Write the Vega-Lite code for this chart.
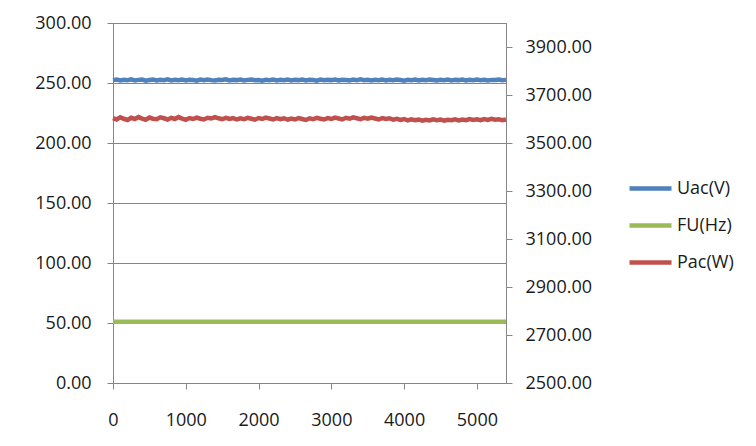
{
  "$schema": "https://vega.github.io/schema/vega-lite/v6.json",
  "width": 393,
  "height": 360,
  "autosize": {"type": "none"},
  "padding": {"left": 113, "top": 23, "right": 250, "bottom": 63},
  "background": "white",
  "config": {
    "font": "Open Sans",
    "view": {"stroke": "#868686", "strokeWidth": 1},
    "axis": {
      "domainColor": "#868686",
      "tickColor": "#868686",
      "gridColor": "#868686",
      "gridWidth": 1,
      "tickSize": 6,
      "labelFont": "Open Sans",
      "labelFontSize": 18,
      "labelColor": "#1a1a1a",
      "labelFlush": false,
      "title": null
    }
  },
  "datasets": {
    "left": [
      {"x":0,"s":"Uac(V)","v":252.4},{"x":50,"s":"Uac(V)","v":252.9},{"x":100,"s":"Uac(V)","v":252.1},{"x":150,"s":"Uac(V)","v":252.7},{"x":200,"s":"Uac(V)","v":252.3},{"x":250,"s":"Uac(V)","v":253.0},{"x":300,"s":"Uac(V)","v":252.2},{"x":350,"s":"Uac(V)","v":252.6},{"x":400,"s":"Uac(V)","v":252.9},{"x":450,"s":"Uac(V)","v":252.0},
      {"x":500,"s":"Uac(V)","v":252.5},{"x":550,"s":"Uac(V)","v":252.8},{"x":600,"s":"Uac(V)","v":252.2},{"x":650,"s":"Uac(V)","v":252.7},{"x":700,"s":"Uac(V)","v":252.4},{"x":750,"s":"Uac(V)","v":253.0},{"x":800,"s":"Uac(V)","v":252.1},{"x":850,"s":"Uac(V)","v":252.6},{"x":900,"s":"Uac(V)","v":252.3},{"x":950,"s":"Uac(V)","v":252.9},
      {"x":1000,"s":"Uac(V)","v":252.2},{"x":1050,"s":"Uac(V)","v":252.7},{"x":1100,"s":"Uac(V)","v":252.5},{"x":1150,"s":"Uac(V)","v":252.0},{"x":1200,"s":"Uac(V)","v":252.8},{"x":1250,"s":"Uac(V)","v":252.3},{"x":1300,"s":"Uac(V)","v":252.9},{"x":1350,"s":"Uac(V)","v":252.4},{"x":1400,"s":"Uac(V)","v":252.1},{"x":1450,"s":"Uac(V)","v":252.7},
      {"x":1500,"s":"Uac(V)","v":252.5},{"x":1550,"s":"Uac(V)","v":253.0},{"x":1600,"s":"Uac(V)","v":252.2},{"x":1650,"s":"Uac(V)","v":252.6},{"x":1700,"s":"Uac(V)","v":252.4},{"x":1750,"s":"Uac(V)","v":252.8},{"x":1800,"s":"Uac(V)","v":252.1},{"x":1850,"s":"Uac(V)","v":252.6},{"x":1900,"s":"Uac(V)","v":252.9},{"x":1950,"s":"Uac(V)","v":252.3},
      {"x":2000,"s":"Uac(V)","v":252.5},{"x":2050,"s":"Uac(V)","v":252.0},{"x":2100,"s":"Uac(V)","v":252.7},{"x":2150,"s":"Uac(V)","v":252.4},{"x":2200,"s":"Uac(V)","v":252.9},{"x":2250,"s":"Uac(V)","v":252.2},{"x":2300,"s":"Uac(V)","v":252.6},{"x":2350,"s":"Uac(V)","v":252.3},{"x":2400,"s":"Uac(V)","v":252.8},{"x":2450,"s":"Uac(V)","v":252.1},
      {"x":2500,"s":"Uac(V)","v":252.6},{"x":2550,"s":"Uac(V)","v":252.4},{"x":2600,"s":"Uac(V)","v":252.9},{"x":2650,"s":"Uac(V)","v":252.2},{"x":2700,"s":"Uac(V)","v":252.7},{"x":2750,"s":"Uac(V)","v":252.5},{"x":2800,"s":"Uac(V)","v":252.0},{"x":2850,"s":"Uac(V)","v":252.8},{"x":2900,"s":"Uac(V)","v":252.3},{"x":2950,"s":"Uac(V)","v":252.6},
      {"x":3000,"s":"Uac(V)","v":252.4},{"x":3050,"s":"Uac(V)","v":252.9},{"x":3100,"s":"Uac(V)","v":252.1},{"x":3150,"s":"Uac(V)","v":252.7},{"x":3200,"s":"Uac(V)","v":252.5},{"x":3250,"s":"Uac(V)","v":252.2},{"x":3300,"s":"Uac(V)","v":252.8},{"x":3350,"s":"Uac(V)","v":252.4},{"x":3400,"s":"Uac(V)","v":253.0},{"x":3450,"s":"Uac(V)","v":252.3},
      {"x":3500,"s":"Uac(V)","v":252.6},{"x":3550,"s":"Uac(V)","v":252.1},{"x":3600,"s":"Uac(V)","v":252.7},{"x":3650,"s":"Uac(V)","v":252.4},{"x":3700,"s":"Uac(V)","v":252.9},{"x":3750,"s":"Uac(V)","v":252.2},{"x":3800,"s":"Uac(V)","v":252.6},{"x":3850,"s":"Uac(V)","v":252.3},{"x":3900,"s":"Uac(V)","v":252.8},{"x":3950,"s":"Uac(V)","v":252.5},
      {"x":4000,"s":"Uac(V)","v":252.0},{"x":4050,"s":"Uac(V)","v":252.7},{"x":4100,"s":"Uac(V)","v":252.4},{"x":4150,"s":"Uac(V)","v":252.9},{"x":4200,"s":"Uac(V)","v":252.2},{"x":4250,"s":"Uac(V)","v":252.6},{"x":4300,"s":"Uac(V)","v":252.3},{"x":4350,"s":"Uac(V)","v":252.8},{"x":4400,"s":"Uac(V)","v":252.5},{"x":4450,"s":"Uac(V)","v":252.1},
      {"x":4500,"s":"Uac(V)","v":252.7},{"x":4550,"s":"Uac(V)","v":252.4},{"x":4600,"s":"Uac(V)","v":252.9},{"x":4650,"s":"Uac(V)","v":252.2},{"x":4700,"s":"Uac(V)","v":252.6},{"x":4750,"s":"Uac(V)","v":252.4},{"x":4800,"s":"Uac(V)","v":252.8},{"x":4850,"s":"Uac(V)","v":252.1},{"x":4900,"s":"Uac(V)","v":252.6},{"x":4950,"s":"Uac(V)","v":252.3},
      {"x":5000,"s":"Uac(V)","v":252.9},{"x":5050,"s":"Uac(V)","v":252.4},{"x":5100,"s":"Uac(V)","v":252.7},{"x":5150,"s":"Uac(V)","v":252.2},{"x":5200,"s":"Uac(V)","v":252.6},{"x":5250,"s":"Uac(V)","v":252.5},{"x":5300,"s":"Uac(V)","v":252.8},{"x":5350,"s":"Uac(V)","v":252.3},{"x":5400,"s":"Uac(V)","v":252.6},
      {"x":0,"s":"FU(Hz)","v":51.0},{"x":600,"s":"FU(Hz)","v":51.0},{"x":1200,"s":"FU(Hz)","v":51.0},{"x":1800,"s":"FU(Hz)","v":51.0},{"x":2400,"s":"FU(Hz)","v":51.0},{"x":3000,"s":"FU(Hz)","v":51.0},{"x":3600,"s":"FU(Hz)","v":51.0},{"x":4200,"s":"FU(Hz)","v":51.0},{"x":4800,"s":"FU(Hz)","v":51.0},{"x":5400,"s":"FU(Hz)","v":51.0}
    ],
    "right": [
      {"x":0,"s":"Pac(W)","v":3604},{"x":50,"s":"Pac(W)","v":3598},{"x":100,"s":"Pac(W)","v":3607},{"x":150,"s":"Pac(W)","v":3601},{"x":200,"s":"Pac(W)","v":3596},{"x":250,"s":"Pac(W)","v":3605},{"x":300,"s":"Pac(W)","v":3600},{"x":350,"s":"Pac(W)","v":3608},{"x":400,"s":"Pac(W)","v":3602},{"x":450,"s":"Pac(W)","v":3597},
      {"x":500,"s":"Pac(W)","v":3606},{"x":550,"s":"Pac(W)","v":3601},{"x":600,"s":"Pac(W)","v":3599},{"x":650,"s":"Pac(W)","v":3607},{"x":700,"s":"Pac(W)","v":3603},{"x":750,"s":"Pac(W)","v":3598},{"x":800,"s":"Pac(W)","v":3605},{"x":850,"s":"Pac(W)","v":3600},{"x":900,"s":"Pac(W)","v":3608},{"x":950,"s":"Pac(W)","v":3602},
      {"x":1000,"s":"Pac(W)","v":3597},{"x":1050,"s":"Pac(W)","v":3604},{"x":1100,"s":"Pac(W)","v":3600},{"x":1150,"s":"Pac(W)","v":3606},{"x":1200,"s":"Pac(W)","v":3601},{"x":1250,"s":"Pac(W)","v":3598},{"x":1300,"s":"Pac(W)","v":3605},{"x":1350,"s":"Pac(W)","v":3602},{"x":1400,"s":"Pac(W)","v":3608},{"x":1450,"s":"Pac(W)","v":3603},
      {"x":1500,"s":"Pac(W)","v":3599},{"x":1550,"s":"Pac(W)","v":3605},{"x":1600,"s":"Pac(W)","v":3600},{"x":1650,"s":"Pac(W)","v":3604},{"x":1700,"s":"Pac(W)","v":3598},{"x":1750,"s":"Pac(W)","v":3603},{"x":1800,"s":"Pac(W)","v":3599},{"x":1850,"s":"Pac(W)","v":3605},{"x":1900,"s":"Pac(W)","v":3601},{"x":1950,"s":"Pac(W)","v":3597},
      {"x":2000,"s":"Pac(W)","v":3604},{"x":2050,"s":"Pac(W)","v":3600},{"x":2100,"s":"Pac(W)","v":3606},{"x":2150,"s":"Pac(W)","v":3602},{"x":2200,"s":"Pac(W)","v":3598},{"x":2250,"s":"Pac(W)","v":3604},{"x":2300,"s":"Pac(W)","v":3599},{"x":2350,"s":"Pac(W)","v":3603},{"x":2400,"s":"Pac(W)","v":3597},{"x":2450,"s":"Pac(W)","v":3602},
      {"x":2500,"s":"Pac(W)","v":3598},{"x":2550,"s":"Pac(W)","v":3604},{"x":2600,"s":"Pac(W)","v":3600},{"x":2650,"s":"Pac(W)","v":3596},{"x":2700,"s":"Pac(W)","v":3603},{"x":2750,"s":"Pac(W)","v":3599},{"x":2800,"s":"Pac(W)","v":3605},{"x":2850,"s":"Pac(W)","v":3601},{"x":2900,"s":"Pac(W)","v":3598},{"x":2950,"s":"Pac(W)","v":3604},
      {"x":3000,"s":"Pac(W)","v":3600},{"x":3050,"s":"Pac(W)","v":3606},{"x":3100,"s":"Pac(W)","v":3602},{"x":3150,"s":"Pac(W)","v":3598},{"x":3200,"s":"Pac(W)","v":3605},{"x":3250,"s":"Pac(W)","v":3601},{"x":3300,"s":"Pac(W)","v":3607},{"x":3350,"s":"Pac(W)","v":3603},{"x":3400,"s":"Pac(W)","v":3599},{"x":3450,"s":"Pac(W)","v":3605},
      {"x":3500,"s":"Pac(W)","v":3601},{"x":3550,"s":"Pac(W)","v":3606},{"x":3600,"s":"Pac(W)","v":3602},{"x":3650,"s":"Pac(W)","v":3598},{"x":3700,"s":"Pac(W)","v":3604},{"x":3750,"s":"Pac(W)","v":3600},{"x":3800,"s":"Pac(W)","v":3603},{"x":3850,"s":"Pac(W)","v":3597},{"x":3900,"s":"Pac(W)","v":3601},{"x":3950,"s":"Pac(W)","v":3596},
      {"x":4000,"s":"Pac(W)","v":3600},{"x":4050,"s":"Pac(W)","v":3594},{"x":4100,"s":"Pac(W)","v":3599},{"x":4150,"s":"Pac(W)","v":3595},{"x":4200,"s":"Pac(W)","v":3598},{"x":4250,"s":"Pac(W)","v":3593},{"x":4300,"s":"Pac(W)","v":3597},{"x":4350,"s":"Pac(W)","v":3594},{"x":4400,"s":"Pac(W)","v":3599},{"x":4450,"s":"Pac(W)","v":3595},
      {"x":4500,"s":"Pac(W)","v":3598},{"x":4550,"s":"Pac(W)","v":3593},{"x":4600,"s":"Pac(W)","v":3597},{"x":4650,"s":"Pac(W)","v":3595},{"x":4700,"s":"Pac(W)","v":3599},{"x":4750,"s":"Pac(W)","v":3594},{"x":4800,"s":"Pac(W)","v":3598},{"x":4850,"s":"Pac(W)","v":3595},{"x":4900,"s":"Pac(W)","v":3600},{"x":4950,"s":"Pac(W)","v":3596},
      {"x":5000,"s":"Pac(W)","v":3599},{"x":5050,"s":"Pac(W)","v":3595},{"x":5100,"s":"Pac(W)","v":3600},{"x":5150,"s":"Pac(W)","v":3596},{"x":5200,"s":"Pac(W)","v":3601},{"x":5250,"s":"Pac(W)","v":3597},{"x":5300,"s":"Pac(W)","v":3599},{"x":5350,"s":"Pac(W)","v":3595},{"x":5400,"s":"Pac(W)","v":3598}
    ]
  },
  "layer": [
    {
      "data": {"name": "left"},
      "mark": {"type": "line", "strokeWidth": 4.5},
      "encoding": {
        "x": {
          "field": "x", "type": "quantitative",
          "scale": {"domain": [0, 5400], "nice": false, "zero": false},
          "axis": {"values": [0, 1000, 2000, 3000, 4000, 5000], "format": "d", "grid": false, "labelPadding": 22}
        },
        "y": {
          "field": "v", "type": "quantitative",
          "scale": {"domain": [0, 300], "nice": false},
          "axis": {"orient": "left", "values": [0, 50, 100, 150, 200, 250, 300], "format": ".2f", "grid": true, "labelPadding": 16}
        },
        "color": {
          "field": "s", "type": "nominal",
          "scale": {"domain": ["Uac(V)", "FU(Hz)", "Pac(W)"], "range": ["#4F81BD", "#9BBB59", "#C0504D"]},
          "legend": {
            "title": null,
            "orient": "none",
            "legendX": 514,
            "legendY": 142,
            "symbolType": "stroke",
            "symbolSize": 1764,
            "symbolStrokeWidth": 4.5,
            "labelFont": "Open Sans",
            "labelFontSize": 18,
            "labelColor": "#1a1a1a",
            "labelOffset": 3,
            "rowPadding": 4
          }
        },
        "order": {"field": "x", "type": "quantitative"}
      }
    },
    {
      "data": {"name": "right"},
      "mark": {"type": "line", "strokeWidth": 4.5},
      "encoding": {
        "x": {"field": "x", "type": "quantitative"},
        "y": {
          "field": "v", "type": "quantitative",
          "scale": {"domain": [2500, 4000], "nice": false, "zero": false},
          "axis": {"orient": "right", "values": [2500, 2700, 2900, 3100, 3300, 3500, 3700, 3900], "format": ".2f", "grid": false, "labelPadding": 13}
        },
        "color": {"field": "s", "type": "nominal"}
      }
    }
  ],
  "resolve": {"scale": {"y": "independent"}}
}
